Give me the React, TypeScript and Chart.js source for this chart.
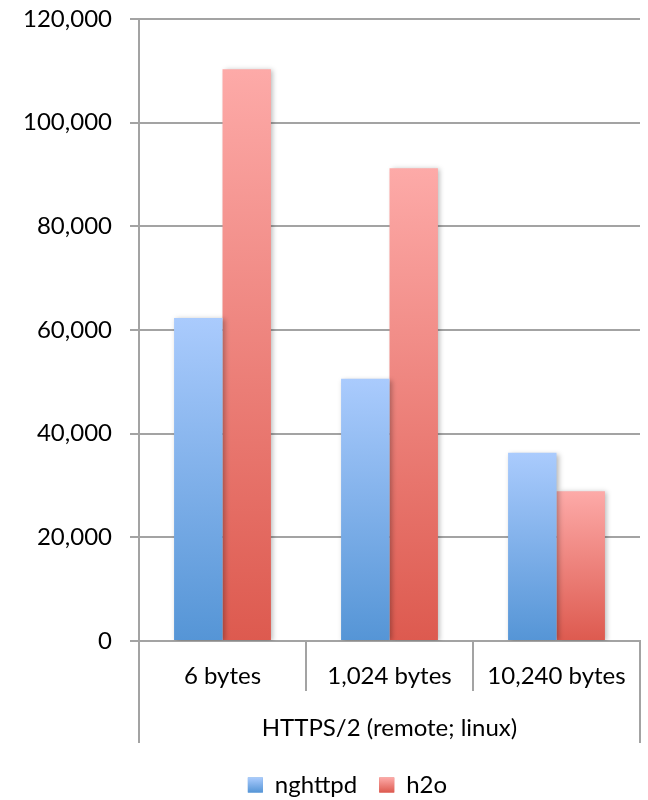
import React, { useEffect, useRef } from 'react';
import { Chart, registerables } from 'chart.js';

Chart.register(...registerables);

const categories = ['6 bytes', '1,024 bytes', '10,240 bytes'];
const groupLabels = ['HTTPS/2 (remote; linux)'];
const seriesNames = ['nghttpd', 'h2o'];
const nghttpdValues = [62300, 50600, 36300];
const h2oValues = [110300, 91200, 28900];
const yMin = 0;
const yMax = 120000;
const yStep = 20000;

const FONT = 'Lato, "Noto Sans", sans-serif';
const FONT_SIZE = 24;
const GRID = '#a3a3a3';
const blueStops = ['#aacbfd', '#5595d6'];
const redStops = ['#fdaaa8', '#dd5a4f'];

function barGradient(stops: string[]) {
  return (c: any) => {
    const chart = c.chart;
    const y = chart.scales && chart.scales.y;
    if (!chart.chartArea || !y || c.type !== 'data') return stops[1];
    const top = y.getPixelForValue(c.raw);
    const bot = y.getPixelForValue(0);
    if (!isFinite(top) || !isFinite(bot) || top === bot) return stops[1];
    const g = chart.ctx.createLinearGradient(0, top, 0, bot);
    g.addColorStop(0, stops[0]);
    g.addColorStop(1, stops[1]);
    return g;
  };
}

const shadowPlugin = {
  id: 'barShadow',
  beforeDatasetsDraw(chart: any) {
    const ctx = chart.ctx;
    ctx.save();
    ctx.shadowColor = 'rgba(0,0,0,0.28)';
    ctx.shadowBlur = 5;
    ctx.shadowOffsetX = 2;
    ctx.shadowOffsetY = 1;
  },
  afterDatasetsDraw(chart: any) {
    chart.ctx.restore();
  },
};

const legendShiftPlugin = {
  id: 'legendShift',
  afterLayout(chart: any) {
    if (chart.legend) {
      chart.legend.left = 55;
    }
  },
};

const legendGradientPlugin = {
  id: 'legendGradient',
  afterDraw(chart: any) {
    const legend = chart.legend;
    if (!legend || !legend.legendHitBoxes) return;
    const opts = legend.options.labels;
    const fontSize = opts.font.size;
    const bw = opts.boxWidth;
    const bh = opts.boxHeight;
    const ctx = chart.ctx;
    legend.legendHitBoxes.forEach((hb: any, i: number) => {
      const stops = i === 0 ? blueStops : redStops;
      const x = hb.left;
      const y = hb.top + Math.max((fontSize - bh) / 2, 0);
      const g = ctx.createLinearGradient(0, y, 0, y + bh);
      g.addColorStop(0, stops[0]);
      g.addColorStop(1, stops[1]);
      ctx.save();
      ctx.fillStyle = g;
      ctx.fillRect(x, y, bw, bh);
      ctx.restore();
    });
  },
};

export default function App() {
  const ref = useRef<HTMLCanvasElement>(null);
  useEffect(() => {
    if (!ref.current) return;
    const chart = new Chart(ref.current, {
      type: 'bar',
      data: {
        labels: categories,
        datasets: [
          {
            label: seriesNames[0],
            data: nghttpdValues,
            backgroundColor: barGradient(blueStops),
            borderWidth: 0,
            categoryPercentage: 0.58,
            barPercentage: 1.0,
          },
          {
            label: seriesNames[1],
            data: h2oValues,
            backgroundColor: barGradient(redStops),
            borderWidth: 0,
            categoryPercentage: 0.58,
            barPercentage: 1.0,
          },
        ],
      },
      options: {
        responsive: false,
        animation: false,
        layout: { padding: { top: 19, left: 10, right: 8, bottom: -7 } },
        plugins: {
          tooltip: { enabled: false },
          legend: {
            position: 'bottom',
            labels: {
              boxWidth: 15,
              boxHeight: 15,
              padding: 22,
              color: '#000',
              font: { family: FONT, size: FONT_SIZE },
            },
          },
        },
        scales: {
          x: {
            type: 'category',
            position: 'bottom',
            weight: 0,
            offset: true,
            grid: {
              offset: true,
              drawOnChartArea: false,
              drawTicks: true,
              tickLength: 50,
              color: GRID,
              lineWidth: 2,
            },
            border: { display: true, color: GRID, width: 2 },
            ticks: {
              color: '#000',
              font: { family: FONT, size: FONT_SIZE },
              padding: -29.5,
              maxRotation: 0,
              autoSkip: false,
            },
            afterFit: (s: any) => {
              s.height = 50;
            },
          },
          x2: {
            type: 'category',
            labels: groupLabels,
            position: 'bottom',
            weight: 5,
            offset: true,
            grid: {
              offset: true,
              drawOnChartArea: false,
              drawTicks: true,
              tickLength: 52,
              color: GRID,
              lineWidth: 2,
            },
            border: { display: false },
            ticks: {
              color: '#000',
              font: { family: FONT, size: FONT_SIZE },
              padding: -29.5,
              maxRotation: 0,
            },
            afterFit: (s: any) => {
              s.height = 60;
            },
          },
          y: {
            type: 'linear',
            min: yMin,
            max: yMax,
            grid: {
              color: GRID,
              lineWidth: 2,
              tickLength: 9,
            },
            border: { display: true, color: GRID, width: 2 },
            ticks: {
              stepSize: yStep,
              padding: 18,
              color: '#000',
              font: { family: FONT, size: FONT_SIZE },
              callback: (v: any) => Number(v).toLocaleString('en-US'),
            },
            afterFit: (s: any) => {
              s.width = 129;
              s.paddingTop = 0;
              s.paddingBottom = 0;
            },
          },
        },
      },
      plugins: [shadowPlugin, legendShiftPlugin, legendGradientPlugin],
    } as any);
    return () => chart.destroy();
  }, []);

  return (
    <div style={{ position: 'absolute', left: 0, top: 0, width: 648, height: 800, background: '#fff' }}>
      <canvas ref={ref} width={648} height={800} style={{ width: 648, height: 800, display: 'block' }} />
    </div>
  );
}
